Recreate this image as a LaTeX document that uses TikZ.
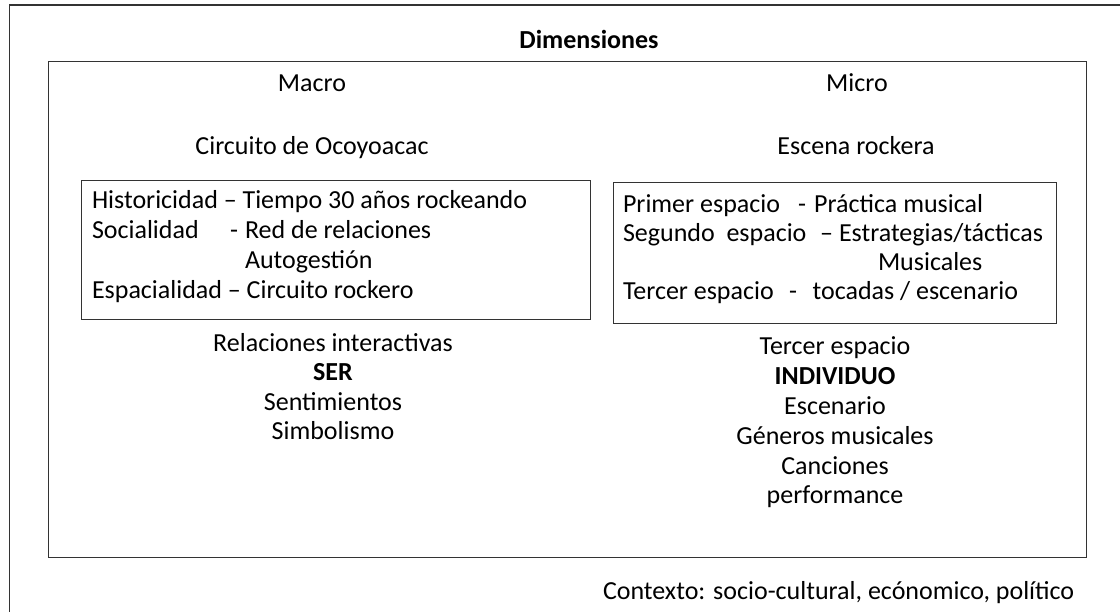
\documentclass[tikz,border=0pt]{standalone}
\usepackage{fontspec}
\setmainfont{Carlito}
\begin{document}
\begin{tikzpicture}[x=1pt,y=-1pt,
  frame/.style={draw=black!80,line width=1.4pt},
  txt/.style={inner sep=0pt,outer sep=0pt,font=\fontsize{26}{31}\selectfont,anchor=base},
  btxt/.style={txt,font=\fontsize{26}{31}\selectfont\bfseries},
  ltxt/.style={txt,anchor=base west},
  rtxt/.style={txt,anchor=base east}]
\useasboundingbox (0,0) rectangle (1120,612);
% outer frame (open to the right and bottom)
\coordinate (otr) at (1121,5);
\coordinate (otl) at (9.5,5);
\coordinate (obl) at (9.5,613);
\draw[frame] (otr) -- (otl) -- (obl);
% inner frame
\node[frame,inner sep=0pt,minimum width=1038pt,minimum height=496pt,anchor=north west] (inner) at (48,61) {};
% boxes
\node[frame,inner sep=0pt,minimum width=509pt,minimum height=139pt,anchor=north west] (lbox) at (81,180) {};
\node[frame,inner sep=0pt,minimum width=443pt,minimum height=141pt,anchor=north west] (rbox) at (613,182) {};
% title
\node[btxt] (dim) at (589,49) {Dimensiones};
\node[txt] (macro) at (312,92) {Macro};
\node[txt] (micro) at (857,92) {Micro};
\node[txt] (circ) at (312,155) {Circuito de Ocoyoacac};
\node[txt] (esc) at (856,155) {Escena rockera};
% left box content
\node[ltxt] (l1) at (92,209) {Historicidad – Tiempo 30 años rockeando};
\node[ltxt] (l2a) at (92,239) {Socialidad};
\node[ltxt] (l2b) at (230,239) {-};
\node[ltxt] (l2c) at (245,239) {Red de relaciones};
\node[ltxt] (l3) at (245,269) {Autogestión};
\node[ltxt] (l4) at (92,299) {Espacialidad – Circuito rockero};
% right box content
\node[ltxt] (r1a) at (623,213) {Primer espacio};
\node[ltxt] (r1b) at (798,213) {-};
\node[rtxt] (r1c) at (983,213) {Práctica musical};
\node[ltxt] (r2a) at (623,242) {Segundo\ \ espacio};
\node[rtxt] (r2c) at (1043,242) {– Estrategias/tácticas};
\node[ltxt] (r3) at (878,271) {Musicales};
\node[ltxt] (r4a) at (623,300) {Tercer espacio};
\node[ltxt] (r4b) at (789,300) {-};
\node[rtxt] (r4c) at (1018,300) {tocadas / escenario};
% left column below
\node[txt] (rel) at (333,352) {Relaciones interactivas};
\node[btxt] (ser) at (333,381) {SER};
\node[txt] (sent) at (333,410) {Sentimientos};
\node[txt] (simb) at (333,439) {Simbolismo};
% right column below
\node[txt] (ter) at (835,355) {Tercer espacio};
\node[btxt] (ind) at (835,385) {INDIVIDUO};
\node[txt] (escn) at (835,414) {Escenario};
\node[txt] (gen) at (835,444) {Géneros musicales};
\node[txt] (canc) at (835,474) {Canciones};
\node[txt] (perf) at (835,503) {performance};
% context
\node[ltxt] (ctx) at (603,599) {Contexto: socio-cultural, ecónomico, político};
\end{tikzpicture}
\end{document}
